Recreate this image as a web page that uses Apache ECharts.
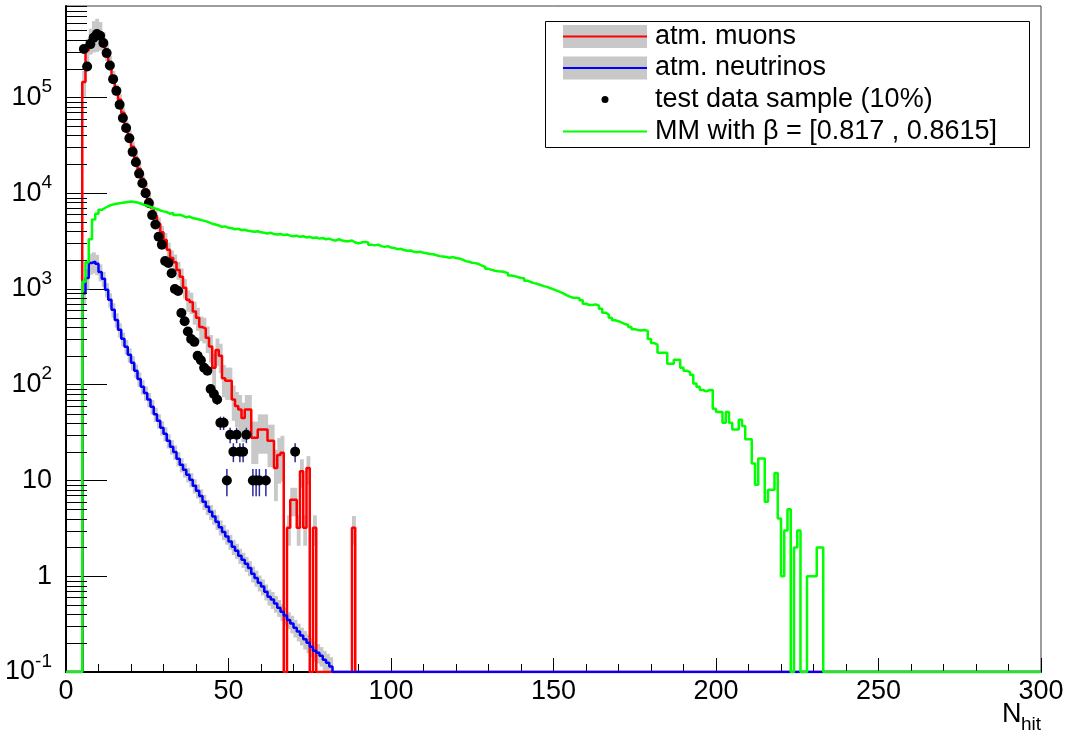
<!DOCTYPE html>
<html>
<head>
<meta charset="utf-8">
<script src="https://cdn.jsdelivr.net/npm/echarts@6.0.0/dist/echarts.min.js"></script>
<style>
  html, body { margin: 0; padding: 0; background: #ffffff; }
  #chart { width: 1066px; height: 735px; }
</style>
</head>
<body>
<div id="chart"></div>
<script>
// N_hit histograms, unit-width bins; every array below starts at N_hit = FIRST_BIN
const FIRST_BIN = 5;
const N_BINS = 300;
const Y_MIN = 0.1;
const Y_MAX = 9e5;

// atm. muons (MC)
const atmMuons = [
  145000, 310000, 400000, 460000, 480000, 460000, 380000, 300000, 230000, 164000,
  120000, 95000, 69000, 50000, 40000, 30500, 23400, 18000, 14100, 11000,
  8700, 7000, 5800, 4800, 3900, 3250, 2560, 2100, 1900, 1580,
  1340, 1030, 770, 730, 580, 500, 400, 385, 310, 250,
  150, 230, 200, 117, 110, 110, 70, 60, 55, 45,
  55, 55, 28, 28, 34, 34, 34, 26, 26, 13.5,
  18.5, 19.5, 0, 3.2, 6.3, 6.3, 3.2, 12.5, 3.2, 13.5,
  0, 3.2, 0, 0, 0, 0, 0, 0, 0, 0,
  0, 0, 0, 3.2
];
const atmMuonsRelErr = [
  0.30, 0.30, 0.30, 0.36, 0.38, 0.33, 0.25, 0.20, 0.17, 0.15,
  0.14, 0.14, 0.13, 0.13, 0.13, 0.13, 0.14, 0.14, 0.14, 0.14,
  0.15, 0.15, 0.16, 0.16, 0.17, 0.18, 0.19, 0.20, 0.20, 0.21,
  0.22, 0.23, 0.25, 0.25, 0.27, 0.27, 0.29, 0.30, 0.31, 0.32,
  0.40, 0.32, 0.34, 0.37, 0.37, 0.37, 0.40, 0.40, 0.42, 0.44,
  0.42, 0.42, 0.47, 0.47, 0.44, 0.44, 0.44, 0.47, 0.47, 0.55,
  0.50, 0.50, 0, 0.35, 0.33, 0.33, 0.35, 0.33, 0.35, 0.33,
  0, 0.35, 0, 0, 0, 0, 0, 0, 0, 0,
  0, 0, 0, 0.33
];

// atm. neutrinos (MC)
const atmNeutrinos = [
  900, 1300, 1870, 1930, 1830, 1500, 1280, 980, 770, 605,
  475, 374, 301, 249, 205, 169, 140, 115, 95, 82,
  70, 59, 49, 42, 35.5, 30.7, 26, 22.5, 19.8, 16.9,
  14.6, 12.9, 11.5, 10.2, 8.8, 7.8, 6.9, 6.0, 5.3, 4.7,
  4.2, 3.7, 3.25, 2.9, 2.6, 2.3, 2.03, 1.85, 1.64, 1.49,
  1.35, 1.22, 1.06, 0.96, 0.855, 0.78, 0.69, 0.61, 0.57, 0.52,
  0.47, 0.425, 0.39, 0.35, 0.32, 0.29, 0.264, 0.24, 0.22, 0.202,
  0.184, 0.167, 0.159, 0.148, 0.134, 0.125, 0.114
];
const atmNeutrinosRelErr = [
  0.24, 0.24, 0.25, 0.25, 0.24, 0.20, 0.18, 0.17, 0.17, 0.17,
  0.17, 0.17, 0.16, 0.17, 0.17, 0.17, 0.16, 0.17, 0.17, 0.17,
  0.17, 0.17, 0.17, 0.17, 0.17, 0.17, 0.17, 0.17, 0.17, 0.17,
  0.17, 0.17, 0.17, 0.17, 0.17, 0.17, 0.17, 0.18, 0.18, 0.18,
  0.18, 0.18, 0.18, 0.18, 0.18, 0.18, 0.18, 0.18, 0.18, 0.18,
  0.18, 0.18, 0.19, 0.19, 0.19, 0.19, 0.19, 0.19, 0.20, 0.20,
  0.20, 0.20, 0.20, 0.20, 0.21, 0.21, 0.21, 0.21, 0.22, 0.22,
  0.22, 0.23, 0.23, 0.23, 0.24, 0.24, 0.25
];

// test data sample (10%)
const testData = [
  320000, 210000, 360000, 420000, 460000, 440000, 370000, 290000, 215000, 155000,
  117000, 84000, 61000, 48000, 37500, 27000, 21000, 16000, 12700, 10000,
  7900, 5900, 4700, 3500, 2900, 1960, 1870, 1460, 1000, 950,
  560, 460, 360, 300, 280, 200, 180, 150, 140, 90,
  80, 70, 40, 40, 10, 30, 20, 30, 20, 20,
  30, 0, 10, 10, 10, 0, 10, 0, 0, 0,
  0, 0, 0, 0, 0, 20
];

// MM with beta in [0.817, 0.8615]
const mmBeta = [
  1190, 1900, 3300, 5300, 6100, 6700, 7000, 7300, 7550, 7700,
  7800, 7900, 8000, 8100, 8200, 8100, 8000, 7800, 7550, 7400,
  7200, 6950, 6850, 6600, 6450, 6350, 6100, 6200, 5900, 5950,
  5800, 5600, 5700, 5500, 5400, 5300, 5200, 5100, 4950, 4800,
  4700, 4600, 4450, 4500, 4350, 4300, 4200, 4250, 4100, 4150,
  4050, 4000, 3950, 4000, 3900, 3850, 3800, 3850, 3750, 3700,
  3750, 3650, 3700, 3600, 3550, 3600, 3500, 3550, 3450, 3500,
  3400, 3450, 3350, 3400, 3300, 3350, 3250, 3200, 3300, 3200,
  3150, 3150, 3200, 3050, 3000, 3050, 3100, 3050, 2900, 2850,
  2900, 2800, 2750, 2800, 2700, 2680, 2600, 2620, 2550, 2500,
  2520, 2450, 2420, 2450, 2380, 2360, 2320, 2300, 2250, 2200,
  2180, 2150, 2120, 2150, 2100, 2080, 2020, 1950, 1920, 1880,
  1860, 1820, 1750, 1700, 1620, 1580, 1550, 1530, 1520, 1500,
  1460, 1380, 1360, 1330, 1300, 1290, 1220, 1180, 1150, 1130,
  1100, 1070, 1050, 1020, 990, 960, 930, 900, 860, 830,
  810, 810, 800, 760, 700, 680, 680, 690, 670, 620,
  565, 540, 500, 470, 460, 445, 430, 420, 400, 380,
  372, 368, 372, 365, 300, 272, 262, 215, 215, 215,
  165, 165, 182, 182, 150, 140, 135, 127, 103, 95,
  88, 85, 88, 88, 56, 52, 52, 40, 52, 40,
  34, 34, 43, 37, 27, 27, 15, 9, 17, 17,
  6, 8, 8, 12, 4, 1, 3, 5, 0, 2,
  3, 0, 0, 1, 1, 1, 2, 2
];

const legendLabels = [
  'atm. muons',
  'atm. neutrinos',
  'test data sample (10%)',
  'MM with \u03b2 = [0.817 , 0.8615]'
];

const FONT = '"Liberation Sans", Arial, Helvetica, sans-serif';
const BAND_GREY = '#c8c8c8';
const RED = '#ff0000';
const BLUE = '#0000ff';
const GREEN = '#00ff00';
const ERR_BLUE = '#2b2b9e';
const HIST_WIDTH = 2.5;

function binValue(arr, b) {
  const i = b - FIRST_BIN;
  return i >= 0 && i < arr.length ? arr[i] : 0;
}

// histogram outline over the full axis range; empty bins sit on the frame floor
function stepLine(arr) {
  const pts = [];
  for (let b = 0; b < N_BINS; b++) {
    const v = binValue(arr, b);
    const y = v > 0 ? v : Y_MIN;
    pts.push([b, y], [b + 1, y]);
  }
  return pts;
}

// per-bin error boxes [binLow, binHigh, upper, lower]
function bandBoxes(arr, rel) {
  const out = [];
  arr.forEach((v, i) => {
    const e = rel[i];
    if (v > 0 && e > 0) {
      const b = FIRST_BIN + i;
      out.push([b, b + 1, v * (1 + e), Math.max(v * (1 - e), Y_MIN / 2)]);
    }
  });
  return out;
}

function renderBand(params, api) {
  const tl = api.coord([api.value(0), api.value(2)]);
  const br = api.coord([api.value(1), api.value(3)]);
  return {
    type: 'rect',
    shape: { x: tl[0], y: tl[1], width: br[0] - tl[0] + 0.6, height: br[1] - tl[1] },
    style: { fill: BAND_GREY }
  };
}

const dataPoints = [];
const dataErrors = [];
testData.forEach((v, i) => {
  if (v > 0) {
    const x = FIRST_BIN + i + 0.5;
    const s = Math.sqrt(v);
    dataPoints.push([x, v]);
    dataErrors.push([x, v - s, v + s]);
  }
});

// log-axis minor ticks at 2..9 x 10^k
const yMinorTicks = [];
for (let k = -1; k <= 5; k++) {
  for (let m = 2; m <= 9; m++) {
    const v = m * Math.pow(10, k);
    if (v <= Y_MAX) yMinorTicks.push([0, v]);
  }
}

const chart = echarts.init(document.getElementById('chart'), null, { renderer: 'canvas' });

const legendX = 545, legendY = 21, legendW = 484, legendH = 126;
const rowY = [36.5, 68, 99.5, 131.5];
const symX0 = 563, symX1 = 647, textX = 655;

const option = {
  animation: false,
  backgroundColor: '#ffffff',
  grid: {
    left: 66, right: 25, top: 6, bottom: 63,
    show: true, borderColor: '#3a3a3a', borderWidth: 1,
    containLabel: false, outerBoundsMode: 'none'
  },
  xAxis: {
    type: 'value', min: 0, max: 300, interval: 50,
    axisLine: { show: true, onZero: false, lineStyle: { color: '#000', width: 2 } },
    axisTick: { show: true, inside: true, length: 14, lineStyle: { color: '#000', width: 1 } },
    minorTick: { show: true, splitNumber: 5, length: 8, lineStyle: { color: '#000', width: 1 } },
    splitLine: { show: false },
    axisLabel: { color: '#000', fontSize: 27, fontFamily: FONT, margin: 6 }
  },
  yAxis: {
    type: 'log', logBase: 10, min: Y_MIN, max: Y_MAX, splitNumber: 7,
    axisLine: { show: true, onZero: false, lineStyle: { color: '#000', width: 2 } },
    axisTick: { show: true, inside: true, length: 41, lineStyle: { color: '#000', width: 1 } },
    splitLine: { show: false },
    axisLabel: {
      margin: 14,
      showMaxLabel: false,
      formatter: function (v) {
        const l = Math.log10(v);
        const e = Math.round(l);
        if (Math.abs(l - e) > 1e-6) return '';
        if (e === 0) return '{b|1}';
        if (e === 1) return '{b|10}';
        return '{b|10}{s|' + e + '}';
      },
      rich: {
        b: { fontSize: 27, fontFamily: FONT, color: '#000', lineHeight: 40 },
        s: { fontSize: 19, fontFamily: FONT, color: '#000', lineHeight: 19, verticalAlign: 'top' }
      }
    }
  },
  series: [
    {
      name: 'atm. muons band', type: 'custom', z: 2, clip: true, silent: true,
      renderItem: renderBand, encode: { x: [0, 1], y: [2, 3] },
      data: bandBoxes(atmMuons, atmMuonsRelErr)
    },
    {
      name: 'atm. neutrinos band', type: 'custom', z: 2, clip: true, silent: true,
      renderItem: renderBand, encode: { x: [0, 1], y: [2, 3] },
      data: bandBoxes(atmNeutrinos, atmNeutrinosRelErr)
    },
    {
      name: legendLabels[0], type: 'line', z: 3, clip: true, silent: true,
      symbol: 'none', lineStyle: { color: RED, width: HIST_WIDTH },
      data: stepLine(atmMuons)
    },
    {
      name: legendLabels[1], type: 'line', z: 4, clip: true, silent: true,
      symbol: 'none', lineStyle: { color: BLUE, width: HIST_WIDTH },
      data: stepLine(atmNeutrinos)
    },
    {
      name: 'data errors', type: 'custom', z: 5, clip: true, silent: true,
      encode: { x: 0, y: [1, 2] },
      renderItem: function (params, api) {
        const lo = api.coord([api.value(0), api.value(1)]);
        const hi = api.coord([api.value(0), api.value(2)]);
        return {
          type: 'line',
          shape: { x1: lo[0], y1: lo[1], x2: hi[0], y2: hi[1] },
          style: { stroke: ERR_BLUE, lineWidth: 1.5 }
        };
      },
      data: dataErrors
    },
    {
      name: legendLabels[2], type: 'scatter', z: 6, clip: true, silent: true,
      symbol: 'circle', symbolSize: 10, itemStyle: { color: '#000', opacity: 1 },
      data: dataPoints
    },
    {
      name: legendLabels[3], type: 'line', z: 7, clip: true, silent: true,
      symbol: 'none', lineStyle: { color: GREEN, width: HIST_WIDTH },
      data: stepLine(mmBeta)
    },
    {
      name: 'y minor ticks', type: 'custom', z: 8, clip: false, silent: true,
      encode: { x: 0, y: 1 },
      renderItem: function (params, api) {
        const p = api.coord([api.value(0), api.value(1)]);
        const y = Math.round(p[1]) + 0.5;
        return {
          type: 'line',
          shape: { x1: p[0], y1: y, x2: p[0] + 21, y2: y },
          style: { stroke: '#000', lineWidth: 1 }
        };
      },
      data: yMinorTicks
    }
  ],
  graphic: [
    {
      type: 'group', z: 100,
      children: [
        { type: 'rect', shape: { x: legendX + 0.5, y: legendY + 0.5, width: legendW, height: legendH },
          style: { fill: '#ffffff', stroke: '#000', lineWidth: 1 } },
        { type: 'rect', shape: { x: symX0, y: rowY[0] - 11.5, width: symX1 - symX0, height: 23 }, style: { fill: BAND_GREY } },
        { type: 'line', shape: { x1: symX0, y1: rowY[0], x2: symX1, y2: rowY[0] }, style: { stroke: RED, lineWidth: 2 } },
        { type: 'rect', shape: { x: symX0, y: rowY[1] - 11.5, width: symX1 - symX0, height: 23 }, style: { fill: BAND_GREY } },
        { type: 'line', shape: { x1: symX0, y1: rowY[1], x2: symX1, y2: rowY[1] }, style: { stroke: BLUE, lineWidth: 2 } },
        { type: 'circle', shape: { cx: 605, cy: rowY[2], r: 3.5 }, style: { fill: '#000' } },
        { type: 'line', shape: { x1: symX0, y1: rowY[3], x2: symX1, y2: rowY[3] }, style: { stroke: GREEN, lineWidth: 2 } },
        { type: 'text', x: textX, y: rowY[0], style: { text: legendLabels[0], fontSize: 27, fontFamily: FONT, fill: '#000', verticalAlign: 'middle' } },
        { type: 'text', x: textX, y: rowY[1], style: { text: legendLabels[1], fontSize: 27, fontFamily: FONT, fill: '#000', verticalAlign: 'middle' } },
        { type: 'text', x: textX, y: rowY[2], style: { text: legendLabels[2], fontSize: 27, fontFamily: FONT, fill: '#000', verticalAlign: 'middle' } },
        { type: 'text', x: textX, y: rowY[3], style: { text: legendLabels[3], fontSize: 27, fontFamily: FONT, fill: '#000', verticalAlign: 'middle' } }
      ]
    },
    { type: 'text', z: 100, x: 1002, y: 701, style: { text: 'N', fontSize: 27, fontFamily: FONT, fill: '#000', verticalAlign: 'top' } },
    { type: 'text', z: 100, x: 1021, y: 715, style: { text: 'hit', fontSize: 19, fontFamily: FONT, fill: '#000', verticalAlign: 'top' } }
  ]
};

chart.setOption(option);
</script>
</body>
</html>
